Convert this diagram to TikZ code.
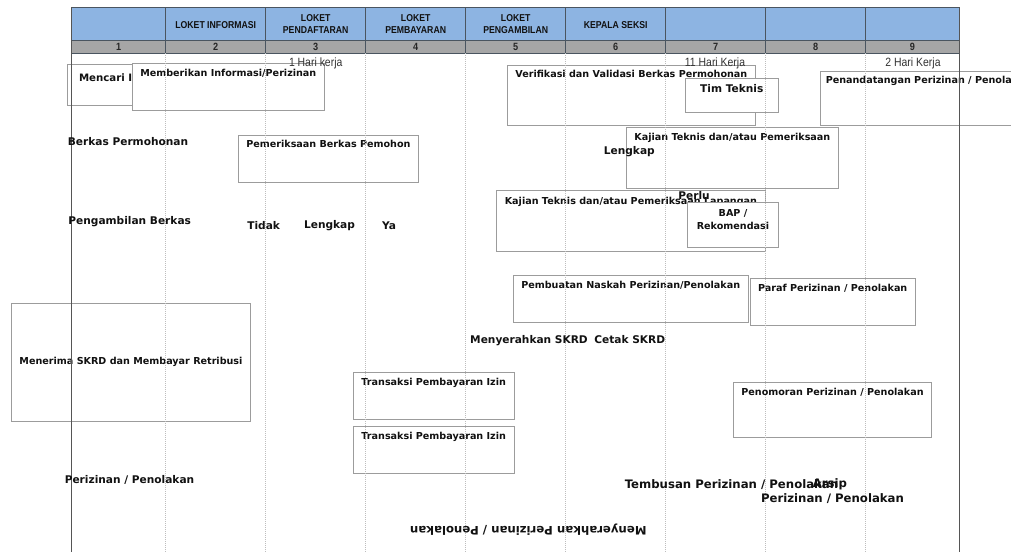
\documentclass[tikz,border=0pt]{standalone}
\usepackage{fontspec}
\setmainfont{DejaVu Sans}
\newfontfamily\hdr[FakeStretch=0.87]{Liberation Sans}
\usetikzlibrary{calc}
\definecolor{hdrblue}{HTML}{8DB4E2}
\definecolor{numgray}{HTML}{A6A6A6}
\definecolor{gridc}{HTML}{4A5560}
\definecolor{boxgray}{HTML}{9C9C9C}
\definecolor{dotc}{HTML}{BDBDBD}
\definecolor{txt}{HTML}{111111}
\definecolor{solidc}{HTML}{555555}
\begin{document}
\begin{tikzpicture}[x=1pt,y=-1pt,
  boxn/.style={draw=boxgray, fill=white, line width=0.8pt, inner sep=0pt, outer sep=0pt, anchor=north west},
  btext/.style={font=\bfseries\fontsize{9.6}{12.6}\selectfont, text=txt, inner sep=0pt, text height=7pt, text depth=0pt, anchor=center},
  lbl/.style={font=\bfseries\fontsize{10.6}{12}\selectfont, text=txt, inner sep=0pt, text height=7.7pt, text depth=0pt, anchor=center},
  biglbl/.style={font=\bfseries\fontsize{11.7}{13}\selectfont, text=txt, inner sep=0pt, text height=8.5pt, text depth=0pt, anchor=center},
  hari/.style={font=\hdr\fontsize{12}{13}\selectfont, text=black!80, inner sep=0pt, text height=8.6pt, text depth=0pt, anchor=center},
  hdrtxt/.style={font=\hdr\bfseries\fontsize{10}{12}\selectfont, text=txt, inner sep=0pt, align=center, anchor=center},
  numtxt/.style={font=\hdr\bfseries\fontsize{10.5}{11}\selectfont, text=black!85, inner sep=0pt, text height=7.5pt, text depth=0pt, anchor=center},
  dotline/.style={draw=dotc, line width=0.6pt, dash pattern=on 1pt off 1pt},
  solidline/.style={draw=solidc, line width=0.9pt},
  gridline/.style={draw=gridc, line width=0.8pt}
]
\useasboundingbox (0,0) rectangle (1011,552);
\clip (0,0) rectangle (1011,552);
\fill[white] (0,0) rectangle (1011,552);

% ---------- table ----------
\fill[hdrblue] (71.7,7.3) rectangle (959.3,40);
\fill[numgray] (71.7,40) rectangle (959.3,53);
\draw[gridline] (71.7,7.3) -- (959.3,7.3);
\draw[gridline] (71.7,40) -- (959.3,40);
\draw[gridline] (71.7,53) -- (959.3,53);
\foreach \x in {165.7,265.7,365.7,465.7,565.7,665.7,765.7,865.7}
  \draw[gridline] (\x,7.3) -- (\x,53);

\node[hdrtxt] (h2) at (215.7,25) {LOKET INFORMASI};
\node[hdrtxt] (h3) at (315.7,23.6) {LOKET\\PENDAFTARAN};
\node[hdrtxt] (h4) at (415.7,23.6) {LOKET\\PEMBAYARAN};
\node[hdrtxt] (h5) at (515.7,23.6) {LOKET\\PENGAMBILAN};
\node[hdrtxt] (h6) at (615.7,25) {KEPALA SEKSI};

\node[numtxt] (n1) at (118.7,46.7) {1};
\node[numtxt] (n2) at (215.7,46.7) {2};
\node[numtxt] (n3) at (315.7,46.7) {3};
\node[numtxt] (n4) at (415.7,46.7) {4};
\node[numtxt] (n5) at (515.7,46.7) {5};
\node[numtxt] (n6) at (615.7,46.7) {6};
\node[numtxt] (n7) at (715.7,46.7) {7};
\node[numtxt] (n8) at (815.7,46.7) {8};
\node[numtxt] (n9) at (912.5,46.7) {9};

% ---------- boxes ----------
\node[boxn, minimum width=126, minimum height=41] (mencari) at (67,64.3) {};
\node[lbl, font=\bfseries\fontsize{10.2}{12}\selectfont, text height=7.4pt] (mencarit) at (131,77.3) {Mencari Informasi};

\node[boxn, minimum width=192, minimum height=47] (memberi) at (132.3,63.3) {};
\node[btext] (memberit) at (228.3,73.3) {Memberikan Informasi/Perizinan};

\node[boxn, minimum width=248, minimum height=60.3] (verif) at (507.3,65) {};
\node[btext] (verift) at (631.3,74) {Verifikasi dan Validasi Berkas Permohonan};

\node[boxn, minimum width=93, minimum height=34] (tim) at (685.3,78.3) {};
\node[lbl] (timt) at (731.8,89) {Tim Teknis};

\node[boxn, minimum width=216, minimum height=54.3] (penanda) at (820.5,71) {};
\node[btext] (penandat) at (928.6,80) {Penandatangan Perizinan / Penolakan};

\node[boxn, minimum width=180.2, minimum height=47] (periksa) at (238.3,135) {};
\node[btext] (periksat) at (328.4,144.3) {Pemeriksaan Berkas Pemohon};

\node[boxn, minimum width=212, minimum height=60.6] (kajian) at (626.3,127.4) {};
\node[btext] (kajiant) at (732.3,136.7) {Kajian Teknis dan/atau Pemeriksaan};

\node[boxn, minimum width=269.2, minimum height=60.5] (lapangan) at (496.3,190.5) {};
\node[btext] (lapangant) at (630.9,201) {Kajian Teknis dan/atau Pemeriksaan Lapangan};

\node[boxn, minimum width=91.5, minimum height=45] (bap) at (687.2,202.5) {};
\node[font=\bfseries\fontsize{9.6}{12.6}\selectfont, text=txt, inner sep=0pt, align=center] (bapt) at (733,219.6) {BAP /\\Rekomendasi};

\node[boxn, minimum width=235, minimum height=47.5] (naskah) at (513.2,275) {};
\node[btext] (naskaht) at (630.7,284.5) {Pembuatan Naskah Perizinan/Penolakan};

\node[boxn, minimum width=165.6, minimum height=47.5] (paraf) at (749.9,278) {};
\node[btext] (paraft) at (832.7,287.8) {Paraf Perizinan / Penolakan};

\node[boxn, minimum width=238.4, minimum height=117.5] (menerima) at (11.8,303.5) {};
\node[btext] (menerimat) at (131,361) {Menerima SKRD dan Membayar Retribusi};

\node[boxn, minimum width=160.7, minimum height=47] (trans1) at (353.3,372.3) {};
\node[btext] (trans1t) at (433.7,382) {Transaksi Pembayaran Izin};

\node[boxn, minimum width=160.7, minimum height=47] (trans2) at (353.3,426.3) {};
\node[btext] (trans2t) at (433.7,436) {Transaksi Pembayaran Izin};

\node[boxn, minimum width=198.4, minimum height=55] (nomor) at (733.3,382.3) {};
\node[btext] (nomort) at (832.5,392.3) {Penomoran Perizinan / Penolakan};

% ---------- swimlane lines ----------
\foreach \x in {165.7,265.7,365.7,465.7,565.7,665.7,765.7,865.7}
  \draw[dotline] (\x,53) -- (\x,552);
\draw[solidline] (71.7,7.3) -- (71.7,552);
\draw[solidline] (959.3,7.3) -- (959.3,552);

% ---------- durations ----------
\node[hari] (d1) at (315.7,61.7) {1 Hari kerja};
\node[hari] (d2) at (715,61.7) {11 Hari Kerja};
\node[hari] (d3) at (913,61.7) {2 Hari Kerja};

% ---------- labels ----------
\node[lbl] (l1) at (128,141.7) {Berkas Permohonan};
\node[lbl] (l2) at (129.7,221) {Pengambilan Berkas};
\node[lbl] (l3) at (129.5,480) {Perizinan / Penolakan};
\node[lbl] (l4) at (263.7,226) {Tidak};
\node[lbl] (l5) at (329.5,224.3) {Lengkap};
\node[lbl] (l6) at (389,226) {Ya};
\node[lbl] (l7) at (629.3,150.5) {Lengkap};
\node[lbl] (l8) at (694,196) {Perlu};
\node[lbl] (l9) at (529,340) {Menyerahkan SKRD};
\node[lbl] (l10) at (629.7,340) {Cetak SKRD};
\node[biglbl] (l11) at (731.5,484) {Tembusan Perizinan / Penolakan};
\node[biglbl] (l12) at (830,483.3) {Arsip};
\node[biglbl] (l13) at (832.5,498.3) {Perizinan / Penolakan};
\node[biglbl, rotate=180] (l14) at (528.3,530.7) {Menyerahkan Perizinan / Penolakan};
\end{tikzpicture}
\end{document}
